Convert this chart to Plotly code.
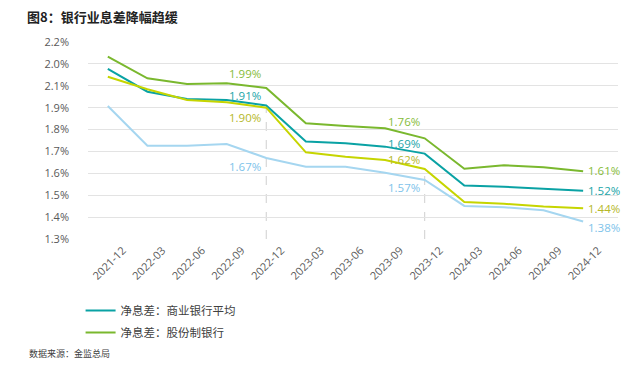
import plotly.graph_objects as go

# ---- data ----
quarters = ["2021-12", "2022-03", "2022-06", "2022-09", "2022-12", "2023-03", "2023-06",
            "2023-09", "2023-12", "2024-03", "2024-06", "2024-09", "2024-12"]
nim_commercial_avg = [2.077, 1.973, 1.940, 1.935, 1.91, 1.745, 1.737, 1.722, 1.69, 1.544, 1.539, 1.530, 1.52]
nim_joint_stock = [2.133, 2.034, 2.008, 2.011, 1.99, 1.829, 1.816, 1.806, 1.76, 1.621, 1.637, 1.628, 1.61]
nim_series3 = [2.041, 1.984, 1.935, 1.925, 1.90, 1.696, 1.676, 1.661, 1.62, 1.469, 1.461, 1.448, 1.44]
nim_series4 = [1.908, 1.726, 1.726, 1.734, 1.67, 1.630, 1.630, 1.603, 1.57, 1.451, 1.445, 1.431, 1.38]
ytick_vals = [1.3, 1.4, 1.5, 1.6, 1.7, 1.8, 1.9, 2.0, 2.1, 2.2]
ytick_text = ["1.3%", "1.4%", "1.5%", "1.6%", "1.7%", "1.8%", "1.9%", "2.1%", "2.0%", "2.2%"]
labelled_idx = [4, 8, 12]
marker_idx = [4, 8]

FONT = "Open Sans, Noto Sans CJK SC, sans-serif"
CJK = "Noto Sans CJK SC, sans-serif"

series = [
    dict(name="净息差：股份制银行", y=nim_joint_stock, color="#7ab82e", lab="#86bc3a",
         legend=True, rank=2, shifts=[14, 17, 1]),
    dict(name="净息差：商业银行平均", y=nim_commercial_avg, color="#0aa2a4", lab="#1aa5a8",
         legend=True, rank=1, shifts=[10, 10, 0]),
    dict(name="series3", y=nim_series3, color="#c6d500", lab="#b5b82a",
         legend=False, rank=3, shifts=[-10, 9, 0]),
    dict(name="series4", y=nim_series4, color="#a5d6f0", lab="#7ec3ea",
         legend=False, rank=4, shifts=[-8, -8, -6]),
]

fig = go.Figure()
# legend order: commercial avg first, then joint-stock
for s in sorted(series, key=lambda d: d["rank"]):
    fig.add_trace(go.Scatter(
        x=quarters, y=s["y"], mode="lines", name=s["name"], legendgroup=s["name"],
        line=dict(color=s["color"], width=2), showlegend=s["legend"],
        hoverinfo="skip"))

# dashed vertical reference lines
for i in marker_idx:
    fig.add_shape(type="line", xref="x", yref="y", x0=quarters[i], x1=quarters[i],
                  y0=1.3, y1=nim_series3[i], line=dict(color="#cfcfcf", width=1, dash="dash"),
                  layer="below")

for s in series:
    for k, i in enumerate(labelled_idx):
        last = i == len(quarters) - 1
        fig.add_annotation(x=quarters[i], y=s["y"][i], text=f"{s['y'][i]:.2f}%",
                           showarrow=False, xanchor="left" if last else "right",
                           xshift=3 if last else -3, yshift=s["shifts"][k],
                           font=dict(family=FONT, size=11.5, color=s["lab"]))

fig.add_annotation(xref="paper", yref="paper", x=-0.115, y=-0.58, text="数据来源：金监总局",
                   showarrow=False, xanchor="left", yanchor="middle",
                   font=dict(family=CJK, size=9, color="#404040"))

fig.update_layout(
    width=640, height=367,
    margin=dict(l=88, r=22, t=42, b=128),
    paper_bgcolor="white", plot_bgcolor="white",
    title=dict(text="<b>图8：银行业息差降幅趋缓</b>", x=27 / 640, xanchor="left",
               y=1 - 17 / 367, yanchor="middle",
               font=dict(family=CJK, size=13, color="#222222")),
    legend=dict(x=-0.014, y=-0.289, xanchor="left", yanchor="top", orientation="v",
                font=dict(family=CJK, size=11.5, color="#404040"), bgcolor="rgba(0,0,0,0)",
                tracegroupgap=3, itemwidth=30),
    showlegend=True,
)
fig.update_xaxes(type="category", range=[-0.5, 12.88], showgrid=False, showline=False,
                 tickangle=-45, ticks="", ticklabelshift=15, ticklabelstandoff=2,
                 tickfont=dict(family=FONT, size=11, color="#595959"))
fig.update_yaxes(range=[1.3, 2.2], tickvals=ytick_vals, ticktext=ytick_text,
                 showgrid=True, gridcolor="#e3e3e3", gridwidth=1, zeroline=False,
                 showline=False, ticks="", ticklabelstandoff=18,
                 tickfont=dict(family=FONT, size=11, color="#595959"))

fig.write_html("out.html", post_script="document.body.style.margin='0';",
               config={"displayModeBar": False})
